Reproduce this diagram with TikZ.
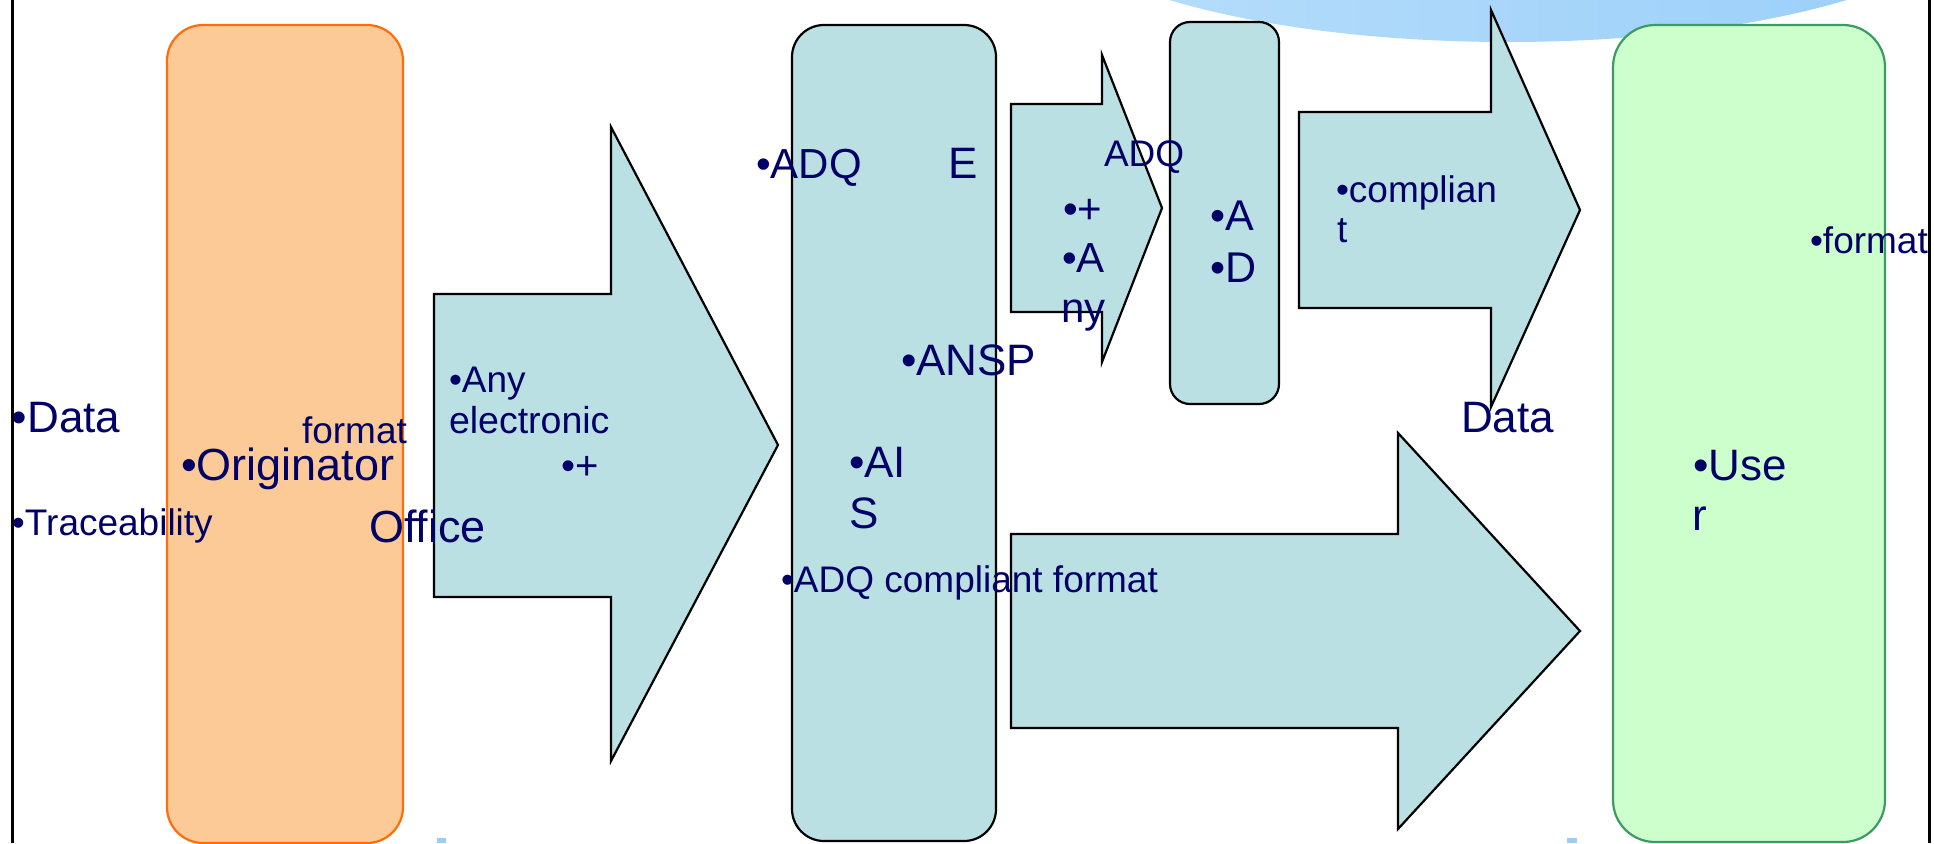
\documentclass[tikz,border=0pt]{standalone}
\usepackage{fontspec}
\setmainfont{Liberation Sans}
\definecolor{navytext}{RGB}{0,0,102}
\definecolor{flowblue}{RGB}{186,224,227}
\definecolor{peach}{RGB}{252,202,150}
\definecolor{peachline}{RGB}{255,110,10}
\definecolor{mint}{RGB}{204,255,204}
\definecolor{mintline}{RGB}{60,155,100}
\definecolor{hazeL}{RGB}{185,222,250}
\definecolor{hazeR}{RGB}{152,206,250}
\newcommand\tsz[1]{\fontsize{#1}{#1}\selectfont}

\begin{document}
\begin{tikzpicture}[x=1pt,y=-1pt,
  flow/.style={fill=flowblue,draw=black,line width=2.2pt,line join=miter},
  lbl/.style={anchor=base west,inner sep=0pt,outer sep=0pt,text=navytext}]
\useasboundingbox (0,0) rectangle (1934,843);

% pale sky band along the top edge
\begin{scope}
  \clip (0,0) rectangle (1934,843);
  \shade[left color=hazeL,right color=hazeR]
    (1508,-100) ellipse [x radius=477pt, y radius=142pt];
  \fill[hazeR] (437,838) rectangle (446,843);
  \fill[hazeR] (1567,838) rectangle (1577,843);
\end{scope}

% originator column
\draw[fill=peach,draw=peachline,line width=2.2pt,rounded corners=36pt]
  (167,25) rectangle (403,843);

% big arrow into the AIS column
\draw[flow] (434,294) -- (611,294) -- (611,127) -- (778,445)
  -- (611,761) -- (611,597) -- (434,597) -- cycle;

% AIS column
\draw[flow,rounded corners=32pt] (792,25) rectangle (996,841);

% small arrow to the AD column
\draw[flow] (1011,104) -- (1102,104) -- (1102,55) -- (1162,208)
  -- (1102,362) -- (1102,312) -- (1011,312) -- cycle;

% AD column
\draw[flow,rounded corners=20pt] (1170,22) rectangle (1279,404);

% upper arrow to the user
\draw[flow] (1299,112) -- (1491,112) -- (1491,10) -- (1580,210)
  -- (1491,407) -- (1491,308) -- (1299,308) -- cycle;

% lower arrow to the user
\draw[flow] (1011,534) -- (1398,534) -- (1398,433) -- (1580,631)
  -- (1398,829) -- (1398,728) -- (1011,728) -- cycle;

% user column
\draw[fill=mint,draw=mintline,line width=2.2pt,rounded corners=42pt]
  (1613,25) rectangle (1885,842);

% labels
\node[lbl,font=\tsz{44}] (tData) at (12,432) {•Data};
\node[lbl,font=\tsz{37}] (tTrace) at (12,535) {•Traceability};
\node[lbl,font=\tsz{45}] (tOrig) at (181,480) {•Originator};
\node[lbl,font=\tsz{37}] (tFmtA) at (302,443) {format};
\node[lbl,font=\tsz{45}] (tOffice) at (369,542) {Office};
\node[lbl,font=\tsz{37}] (tAny) at (449,392) {•Any};
\node[lbl,font=\tsz{37.5}] (tElec) at (449,433) {electronic};
\node[lbl,font=\tsz{40}] (tPlusA) at (561,479) {•+};
\node[lbl,font=\tsz{42}] (tAdqA) at (756,178) {•ADQ};
\node[lbl,font=\tsz{44}] (tE) at (948,178) {E};
\node[lbl,font=\tsz{44}] (tAnsp) at (901,375) {•ANSP};
\node[lbl,font=\tsz{44}] (tAI) at (849,477) {•AI};
\node[lbl,font=\tsz{44}] (tS) at (849,528) {S};
\node[lbl,font=\tsz{37}] (tAdqCF) at (781,592) {•ADQ compliant format};
\node[lbl,font=\tsz{37}] (tAdqB) at (1104,166) {ADQ};
\node[lbl,font=\tsz{42}] (tPlusB) at (1063,223) {•+};
\node[lbl,font=\tsz{42}] (tAB) at (1062,272) {•A};
\node[lbl,font=\tsz{42}] (tNy) at (1061,322) {ny};
\node[lbl,font=\tsz{43}] (tAC) at (1210,230) {•A};
\node[lbl,font=\tsz{43}] (tDC) at (1210,282) {•D};
\node[lbl,font=\tsz{37}] (tCompl) at (1336,202) {•complian};
\node[lbl,font=\tsz{37}] (tT) at (1337,242) {t};
\node[lbl,font=\tsz{44}] (tDataB) at (1461,432) {Data};
\node[lbl,font=\tsz{37}] (tFmtB) at (1810,253) {•format};
\node[lbl,font=\tsz{44}] (tUse) at (1693,480) {•Use};
\node[lbl,font=\tsz{44}] (tR) at (1692,530) {r};

% side rules
\draw[line width=3pt] (12,0) -- (12,843);
\draw[line width=3pt] (1929,0) -- (1929,843);
\end{tikzpicture}
\end{document}
